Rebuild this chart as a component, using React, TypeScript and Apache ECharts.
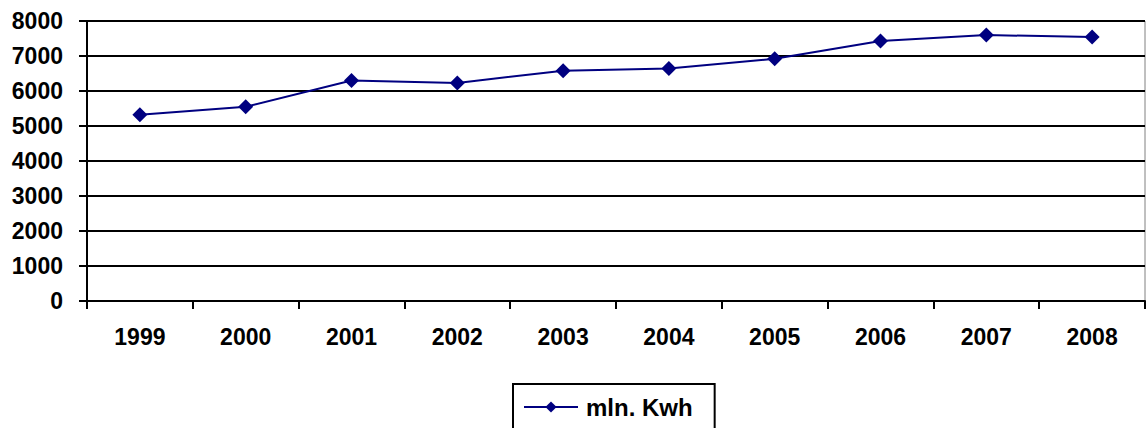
import React, { useEffect, useRef } from "react";
import * as echarts from "echarts";

const categories = ["1999", "2000", "2001", "2002", "2003", "2004", "2005", "2006", "2007", "2008"];
const values = [5320, 5550, 6300, 6230, 6580, 6640, 6920, 7430, 7600, 7540];
const seriesName = "mln. Kwh";

export default function App() {
  const ref = useRef<HTMLDivElement>(null);
  useEffect(() => {
    const chart = echarts.init(ref.current!, null, { renderer: "svg" });
    const font = { fontFamily: "Liberation Sans, Arial, sans-serif", fontWeight: "bold" as const, fontSize: 23, color: "#000" };
    chart.setOption({
      animation: false,
      backgroundColor: "#fff",
      grid: { left: 87, top: 21, right: 1, bottom: 127, show: true, borderColor: "#808080", borderWidth: 1, backgroundColor: "transparent" },
      xAxis: {
        type: "category",
        data: categories,
        boundaryGap: true,
        axisLine: { lineStyle: { color: "#000", width: 2 } },
        axisTick: { show: true, length: 8, lineStyle: { color: "#000", width: 2 }, interval: 0 },
        axisLabel: { ...font, margin: 24, interval: 0 },
        splitLine: { show: false },
      },
      yAxis: {
        type: "value",
        min: 0,
        max: 8000,
        interval: 1000,
        axisLine: { show: true, lineStyle: { color: "#000", width: 2 } },
        axisTick: { show: true, length: 8, lineStyle: { color: "#000", width: 2 } },
        axisLabel: { ...font, margin: 24, formatter: (v: number) => String(v) },
        splitLine: { show: true, lineStyle: { color: "#000", width: 2 } },
      },
      legend: {
        data: [seriesName],
        left: 513,
        top: 384,
        padding: [11, 22, 13, 10],
        borderColor: "#000",
        borderWidth: 2,
        itemWidth: 54,
        itemHeight: 14,
        itemGap: 0,
        textStyle: { ...font, fontSize: 24, padding: [0, 0, 0, 3] },
      },
      series: [
        {
          name: seriesName,
          type: "line",
          data: values,
          symbol: "diamond",
          symbolSize: 15,
          lineStyle: { color: "#000080", width: 2 },
          itemStyle: { color: "#000080" },
        },
      ],
    });
    return () => chart.dispose();
  }, []);
  return <div ref={ref} style={{ position: "fixed", left: 0, top: 0, width: 1146, height: 428 }} />;
}
